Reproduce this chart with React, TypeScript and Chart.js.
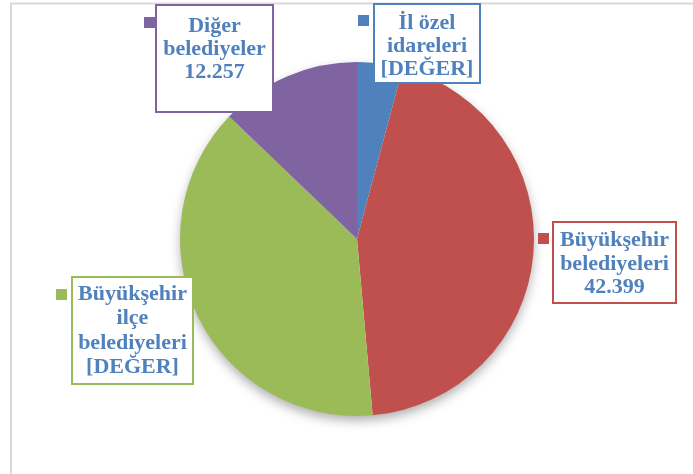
import React, { useEffect, useRef } from "react";
import { Chart, registerables } from "chart.js";

Chart.register(...registerables);

const categories = [
  "İl özel idareleri",
  "Büyükşehir belediyeleri",
  "Büyükşehir ilçe belediyeleri",
  "Diğer belediyeler",
];
const values = [3970, 42399, 36800, 12257];
const colors = ["#4F81BD", "#C0504D", "#9BBB59", "#8064A2"];
// label lines as shown in the reference (two labels show the literal placeholder)
const labelLines = [
  ["İl özel", "idareleri", "[DEĞER]"],
  ["Büyükşehir", "belediyeleri", "42.399"],
  ["Büyükşehir", "ilçe", "belediyeleri", "[DEĞER]"],
  ["Diğer", "belediyeler", "12.257"],
];

// label box layout (x, y, w, h), marker (x, y), first baseline, line step
const labelLayout = [
  { box: [374, 4, 106, 79], marker: [358, 15], base: 29, step: 23 },
  { box: [553, 222, 123, 81], marker: [538, 233], base: 246, step: 23.5 },
  { box: [72, 277, 121, 107], marker: [56, 289], base: 300, step: 24.3 },
  { box: [156, 5, 117, 107], marker: [144, 17], base: 32, step: 23 },
];

const framePlugin = {
  id: "frame",
  beforeDraw(chart: any) {
    const ctx = chart.ctx;
    ctx.save();
    ctx.fillStyle = "#ffffff";
    ctx.fillRect(0, 0, chart.width, chart.height);
    ctx.strokeStyle = "#d9d9d9";
    ctx.lineWidth = 2;
    ctx.beginPath();
    ctx.moveTo(11, chart.height);
    ctx.lineTo(11, 3.5);
    ctx.lineTo(chart.width, 3.5);
    ctx.stroke();
    ctx.restore();
  },
  beforeDatasetsDraw(chart: any) {
    const meta = chart.getDatasetMeta(0);
    const arc = meta.data[0];
    if (!arc) return;
    const ctx = chart.ctx;
    ctx.save();
    ctx.shadowColor = "rgba(0,0,0,0.35)";
    ctx.shadowBlur = 12;
    ctx.shadowOffsetX = 0;
    ctx.shadowOffsetY = 5;
    ctx.fillStyle = "#ffffff";
    ctx.beginPath();
    ctx.arc(arc.x, arc.y, arc.outerRadius - 1, 0, Math.PI * 2);
    ctx.fill();
    ctx.restore();
  },
  afterDatasetsDraw(chart: any) {
    const ctx = chart.ctx;
    ctx.save();
    labelLayout.forEach((l, i) => {
      const [bx, by, bw, bh] = l.box;
      ctx.fillStyle = "#ffffff";
      ctx.fillRect(bx, by, bw, bh);
      ctx.strokeStyle = colors[i];
      ctx.lineWidth = 2;
      ctx.strokeRect(bx, by, bw, bh);
      ctx.fillStyle = colors[i];
      ctx.fillRect(l.marker[0], l.marker[1], 11, 11);
      ctx.fillStyle = "#4F81BD";
      ctx.font = 'bold 22px "Liberation Serif", "Times New Roman", serif';
      ctx.textAlign = "center";
      ctx.textBaseline = "alphabetic";
      labelLines[i].forEach((t, j) => {
        ctx.fillText(t, bx + bw / 2, l.base + j * l.step);
      });
    });
    ctx.restore();
  },
};

export default function App() {
  const ref = useRef<HTMLCanvasElement>(null);
  useEffect(() => {
    if (!ref.current) return;
    const chart = new Chart(ref.current, {
      type: "pie",
      data: {
        labels: categories,
        datasets: [
          {
            data: values,
            backgroundColor: colors,
            borderWidth: 0,
          },
        ],
      },
      options: {
        responsive: false,
        animation: false,
        devicePixelRatio: 1,
        layout: { padding: { left: 180, right: 159, top: 62, bottom: 58 } },
        plugins: {
          legend: { display: false },
          tooltip: { enabled: false },
        },
      },
      plugins: [framePlugin],
    });
    return () => chart.destroy();
  }, []);
  return (
    <div style={{ position: "absolute", left: 0, top: 0, width: 693, height: 474, background: "#fff" }}>
      <canvas ref={ref} width={693} height={474} style={{ width: 693, height: 474, display: "block" }} />
    </div>
  );
}
